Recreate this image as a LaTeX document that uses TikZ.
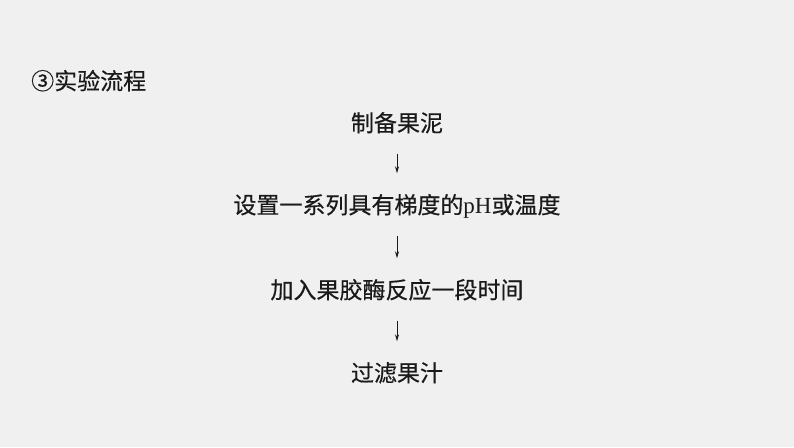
\documentclass[tikz,border=0pt]{standalone}
\usepackage{fontspec}
\setmainfont{Liberation Serif}
\newfontfamily\cjk{Noto Sans CJK SC}[FakeBold=0.5]
\usetikzlibrary{arrows.meta}
\definecolor{bg}{HTML}{F0F0F0}
\definecolor{ink}{HTML}{1A1A1A}
\tikzset{
  stepbox/.style={inner sep=0pt, text height=17pt, text depth=0pt, font=\cjk\fontsize{23pt}{26pt}\selectfont, text=ink},
  flowarrow/.style={draw=ink, line width=1pt, -{Stealth[length=7pt,width=4pt]}, shorten <=22pt, shorten >=23pt}
}
\begin{document}
\begin{tikzpicture}[x=1pt,y=-1pt]
\fill[bg] (0,0) rectangle (794,447);
\useasboundingbox (0,0) rectangle (794,447);
\node[stepbox, anchor=west] (title) at (31,81) {③实验流程};
\node[stepbox] (s1) at (397,123) {制备果泥};
\node[stepbox] (s2) at (397,205) {设置一系列具有梯度的{\rmfamily pH}或温度};
\node[stepbox] (s3) at (397,290) {加入果胶酶反应一段时间};
\node[stepbox] (s4) at (397,373) {过滤果汁};
\draw[flowarrow] (s1) -- (s2);
\draw[flowarrow] (s2) -- (s3);
\draw[flowarrow] (s3) -- (s4);
\end{tikzpicture}
\end{document}
